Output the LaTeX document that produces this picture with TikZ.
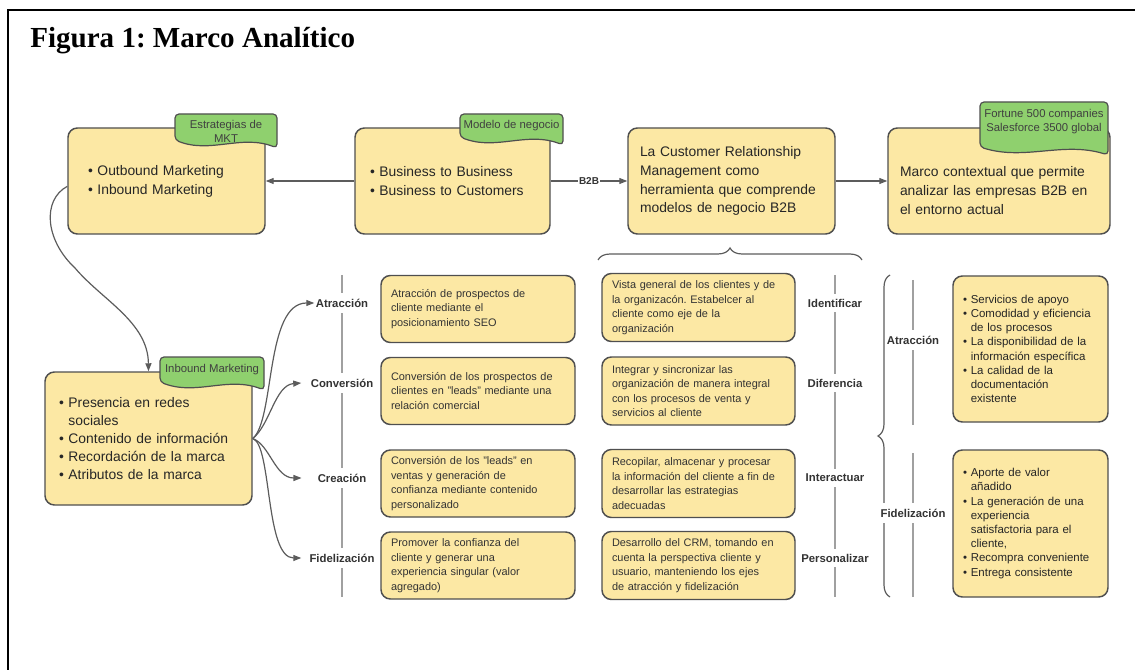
\documentclass[tikz,border=0pt]{standalone}
\usepackage{fontspec}
\setmainfont{Liberation Sans}
\newfontfamily\titlefont{Liberation Serif}
\usetikzlibrary{arrows.meta,decorations.pathreplacing}
\frenchspacing

\definecolor{boxfill}{HTML}{FCE8A4}
\definecolor{boxline}{HTML}{4F4F4F}
\definecolor{tagfill}{HTML}{8FD06E}
\definecolor{linegray}{HTML}{5C5C5C}
\definecolor{sepgray}{HTML}{A0A0A0}

% green note with a wavy lower edge: name, left, top, right, bottom, text y, text
\newcommand{\wavetag}[7]{%
  \draw[tagshape] (#4,#5) .. controls ({#2+0.65*(#4-#2)},#5-14) and ({#2+0.35*(#4-#2)},#5+6) .. (#2,#5-8)
    -- (#2,#3) -- (#4,#3) -- cycle;
  \node[tagtext] (#1) at ({(#2+#4)/2},#6) {#7};}

\begin{document}
\begin{tikzpicture}[x=0.75pt, y=-0.75pt,
  ybox/.style={draw=boxline, fill=boxfill, line width=1.1pt, rounded corners=7pt, align=left, inner sep=0pt},
  bigtxt/.style={font=\fontsize{10.4}{14.2}\selectfont, text=black!85},
  smalltxt/.style={font=\fontsize{8.2}{10.9}\selectfont, text=black!80},
  rtxt/.style={font=\fontsize{8.6}{10.65}\selectfont, text=black!85},
  tagshape/.style={draw=boxline, fill=tagfill, line width=0.9pt, rounded corners=3pt},
  tagtext/.style={font=\fontsize{8.5}{10.5}\selectfont, text=black!75, align=center, inner sep=0pt},
  lbl/.style={font=\bfseries\fontsize{8.5}{10}\selectfont, text=black!80, fill=white, inner xsep=1pt, inner ysep=4pt},
  arr/.style={draw=linegray, line width=0.9pt, -{Triangle[length=6pt,width=4.5pt]}},
  sep/.style={draw=sepgray, line width=0.8pt},
  brc/.style={draw=linegray, line width=0.9pt, decorate, decoration={brace, amplitude=9pt}}
]

\useasboundingbox (0,0) rectangle (1135,670);
\draw[line width=1.5pt] (1140,10) -- (8,10) -- (8,675);

\node[anchor=base west, inner sep=0pt, font=\titlefont\bfseries\fontsize{21.8}{26}\selectfont] (title) at (30,48) {Figura 1: Marco Analítico};

% top row
\node[ybox, bigtxt, minimum width=147.75pt, minimum height=79.5pt, text width=117.75pt] (mkt) at (166.5,181)
  {• Outbound Marketing\\• Inbound Marketing};
\node[ybox, bigtxt, minimum width=146.25pt, minimum height=79.5pt, text width=123.75pt] (neg) at (452.5,181)
  {• Business to Business\\• Business to Customers};
\node[ybox, bigtxt, minimum width=155.25pt, minimum height=79.5pt, text width=137.25pt] (crm) at (731.5,181)
  {La Customer Relationship\\Management como\\herramienta que comprende\\modelos de negocio B2B};
\node[ybox, bigtxt, minimum width=166.5pt, minimum height=79.5pt, text width=148.5pt] (ctx) at (999,181)
  {\rule{0pt}{21.5pt}Marco contextual que permite\\analizar las empresas B2B en\\el entorno actual};

\wavetag{tmkt}{175}{114}{277}{148}{131}{Estrategias de\\MKT}
\wavetag{tneg}{460}{114}{563}{145}{126}{Modelo de negocio}
\wavetag{tctx}{980}{102}{1108}{155}{122}{Fortune 500 companies\\Salesforce 3500 global}

\draw[arr] (neg) -- (mkt);
\draw[arr] (neg) -- node[lbl, font=\bfseries\fontsize{7.5}{9}\selectfont, inner ysep=1pt] (b2b) {B2B} (crm);
\draw[arr] (crm) -- (ctx);

\draw[brc] (598,260) -- (862,260);

% inbound marketing
\node[ybox, font=\fontsize{10.4}{13.4}\selectfont, text=black!85, minimum width=155.25pt, minimum height=99.75pt, text width=134.25pt] (inb) at (148.5,438.5)
  {• Presencia en redes\\\hphantom{• }sociales\\• Contenido de información\\• Recordación de la marca\\• Atributos de la marca};
\wavetag{tin}{160}{357}{264}{390}{370}{Inbound Marketing}

\draw[arr] ([yshift=-4pt]mkt.west) .. controls (42,200) and (45,240) .. (75,268)
  .. controls (102,300) and (148,322) .. (inb.north);

% separators and stage labels
\draw[sep] (342,275) -- (342,597);
\draw[sep] (835,275) -- (835,597);
\draw[sep] (913,280) -- (913,425);
\draw[sep] (913,453) -- (913,597);

\node[lbl] (atr) at (342,303) {Atracción};
\node[lbl] (con) at (342,383) {Conversión};
\node[lbl] (cre) at (342,478) {Creación};
\node[lbl] (fid) at (342,558) {Fidelización};

\draw[arr] (inb.east) .. controls (275,420) and (265,303) .. (atr.west);
\draw[arr] (inb.east) .. controls (270,425) and (275,385) .. ([xshift=-6pt]con.west);
\draw[arr] (inb.east) .. controls (270,445) and (275,478) .. ([xshift=-11pt]cre.west);
\draw[arr] (inb.east) .. controls (272,445) and (265,558) .. ([xshift=-5pt]fid.west);

% middle columns
\node[ybox, smalltxt, minimum width=145.5pt, minimum height=50.25pt, text width=130.5pt] (a1) at (478,309)
  {Atracción de prospectos de\\cliente mediante el\\posicionamiento SEO};
\node[ybox, smalltxt, minimum width=145.5pt, minimum height=50.25pt, text width=130.5pt] (a2) at (478,391)
  {Conversión de los prospectos de\\clientes en "leads" mediante una\\relación comercial};
\node[ybox, smalltxt, minimum width=145.5pt, minimum height=50.25pt, text width=130.5pt] (a3) at (478,483.5)
  {Conversión de los "leads" en\\ventas y generación de\\confianza mediante contenido\\personalizado};
\node[ybox, smalltxt, minimum width=145.5pt, minimum height=50.25pt, text width=130.5pt] (a4) at (478,565.5)
  {Promover la confianza del\\cliente y generar una\\experiencia singular (valor\\agregado)};

\node[ybox, smalltxt, minimum width=144.75pt, minimum height=51pt, text width=129.75pt] (b1) at (698.5,307.5)
  {Vista general de los clientes y de\\la organizacón. Estabelcer al\\cliente como eje de la\\organización};
\node[ybox, smalltxt, minimum width=144.75pt, minimum height=51pt, text width=129.75pt] (b2) at (698.5,391)
  {Integrar y sincronizar las\\organización de manera integral\\con los procesos de venta y\\servicios al cliente};
\node[ybox, smalltxt, minimum width=144.75pt, minimum height=51pt, text width=129.75pt] (b3) at (698.5,483.5)
  {Recopilar, almacenar y procesar\\la información del cliente a fin de\\desarrollar las estrategias\\adecuadas};
\node[ybox, smalltxt, minimum width=144.75pt, minimum height=51pt, text width=129.75pt] (b4) at (698.5,565.5)
  {Desarrollo del CRM, tomando en\\cuenta la perspectiva cliente y\\usuario, manteniendo los ejes\\de atracción y fidelización};

\node[lbl] (ide) at (835,303) {Identificar};
\node[lbl] (dif) at (835,383) {Diferencia};
\node[lbl] (int) at (835,478) {Interactuar};
\node[lbl] (per) at (835,558) {Personalizar};

% right side
\draw[brc] (890,597) -- (890,275);
\node[lbl] (atr2) at (913,340) {Atracción};
\node[lbl] (fid2) at (913,513) {Fidelización};

\node[ybox, rtxt, minimum width=116.25pt, minimum height=109.5pt, text width=101.25pt] (r1) at (1030.5,349)
  {• Servicios de apoyo\\• Comodidad y eficiencia\\\hphantom{• }de los procesos\\• La disponibilidad de la\\\hphantom{• }información específica\\• La calidad de la\\\hphantom{• }documentación\\\hphantom{• }existente};
\node[ybox, rtxt, minimum width=116.25pt, minimum height=110.25pt, text width=101.25pt] (r2) at (1030.5,523.5)
  {• Aporte de valor\\\hphantom{• }añadido\\• La generación de una\\\hphantom{• }experiencia\\\hphantom{• }satisfactoria para el\\\hphantom{• }cliente,\\• Recompra conveniente\\• Entrega consistente};
\end{tikzpicture}
\end{document}
